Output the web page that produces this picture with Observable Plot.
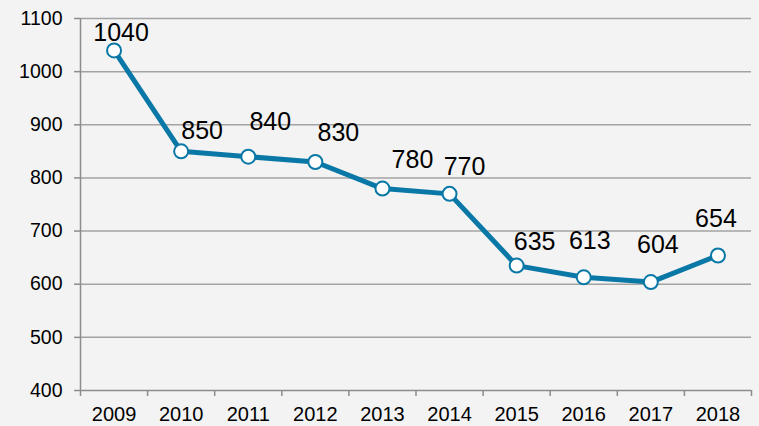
<!DOCTYPE html>
<html>
<head>
<meta charset="utf-8">
<script src="https://cdn.jsdelivr.net/npm/d3@7"></script>
<script src="https://cdn.jsdelivr.net/npm/@observablehq/plot@0.6"></script>
<style>
  html, body { margin: 0; padding: 0; background: #f3f3f3; }
  #chart svg { display: block; background: #f3f3f3; }
</style>
</head>
<body>
<div id="chart"></div>
<script>
const years = ["2009","2010","2011","2012","2013","2014","2015","2016","2017","2018"];
const values = [1040, 850, 840, 830, 780, 770, 635, 613, 604, 654];
const yTicks = [400, 500, 600, 700, 800, 900, 1000, 1100];

// label placement offsets (pixels), layout only
const labelDx = [7, 21, 22, 23, 30, 15, 18, 6, 7, -2];
const labelDy = [-17, -20, -35, -29, -29, -27, -24, -36, -37, -37];

const data = years.map((y, i) => ({ year: y, idx: i + 0.5, value: values[i] }));

const blue = "#0a78a6";
const grid = "#a3a3a3";
const axisCol = "#8c8c8c";
const font = "Liberation Sans, Arial, sans-serif";

const plot = Plot.plot({
  width: 759,
  height: 426,
  marginLeft: 80,
  marginRight: 8,
  marginTop: 18,
  marginBottom: 36,
  style: { fontFamily: font, background: "#f3f3f3", color: "#000" },
  x: { domain: [0, years.length], type: "linear", label: null },
  y: { domain: [400, 1100], label: null },
  marks: [
    Plot.ruleY(yTicks.filter(t => t > 400), { stroke: grid, strokeWidth: 1.5 }),
    Plot.ruleY([400], { stroke: axisCol, strokeWidth: 1.5 }),
    Plot.ruleX([0], { y1: 400, y2: 1100, stroke: axisCol, strokeWidth: 1.5 }),
    Plot.axisY({ ticks: yTicks, tickSize: 6, tickPadding: 12, fontSize: 19.5, stroke: axisCol, strokeWidth: 1.5, tickFormat: d => String(d), fill: "#000", label: null }),
    Plot.axisX({ ticks: d3.range(0, years.length + 1), tickSize: 6, tickFormat: () => "", stroke: axisCol, strokeWidth: 1.5, label: null }),
    Plot.text(data, { x: "idx", y: () => 400, text: "year", dy: 24, fontSize: 20, fill: "#000", lineAnchor: "middle" }),
    Plot.line(data, { x: "idx", y: "value", stroke: blue, strokeWidth: 5, strokeLinejoin: "round" }),
    Plot.dot(data, { x: "idx", y: "value", r: 7, fill: "white", stroke: blue, strokeWidth: 2 }),
    ...data.map((d, i) => Plot.text([d], {
      x: "idx", y: "value", text: d => String(d.value),
      dx: labelDx[i], dy: labelDy[i], fontSize: 25, fill: "#000", lineAnchor: "middle"
    }))
  ]
});

document.getElementById("chart").appendChild(plot);
</script>
</body>
</html>
